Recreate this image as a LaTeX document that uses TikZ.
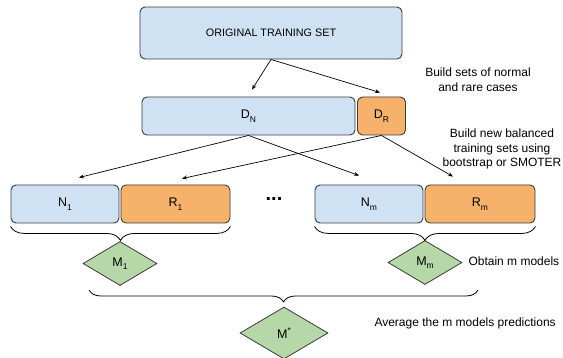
\documentclass[tikz,border=0pt]{standalone}
\usepackage{fontspec}
\setmainfont{Liberation Sans}
\usetikzlibrary{arrows.meta,shapes.geometric,decorations.pathreplacing,calc}

\definecolor{normalblue}{HTML}{CFE2F3}
\definecolor{rareorange}{HTML}{F6B26B}
\definecolor{modelgreen}{HTML}{B6D7A8}
\definecolor{edgegray}{HTML}{3A3A3A}

% lowered index, as in the set and model names
\newcommand{\idx}[1]{\raisebox{-3.5pt}{\fontsize{8.5}{9}\selectfont #1}}

\begin{document}
\begin{tikzpicture}[x=1pt, y=-1pt,
        set/.style={rectangle, draw=edgegray, rounded corners=5pt,
            line width=0.9pt, inner sep=0pt, minimum height=38pt,
            font=\fontsize{12.5}{14}\selectfont},
        normal/.style={set, fill=normalblue},
        rare/.style={set, fill=rareorange},
        model/.style={diamond, draw=edgegray, fill=modelgreen, line width=0.8pt,
            inner sep=0pt, minimum width=74pt, minimum height=44pt,
            font=\fontsize{12.5}{14}\selectfont},
        flow/.style={-{Stealth[length=5pt, width=4pt]}, line width=0.7pt},
        group/.style={decorate, decoration={brace, mirror, amplitude=#1},
            line width=0.8pt},
        note/.style={font=\fontsize{12}{14.5}\selectfont, align=center},
    ]
        \useasboundingbox (0,0) rectangle (563,358);

        % Whole training set
        \node[normal, minimum width=262pt, minimum height=52pt,
            font=\fontsize{10.8}{12}\selectfont] (orig) at (271,33) {ORIGINAL TRAINING SET};

        % Normal and rare cases
        \node[normal, minimum width=213pt] (dn) at (248.5,116) {D\idx{N}};
        \node[rare, minimum width=48pt] (dr) at (381.5,116) {D\idx{R}};

        % Balanced training sets
        \node[normal, minimum width=108pt] (n1) at (65,204) {N\idx{1}};
        \node[rare, minimum width=109pt] (r1) at (175.5,204) {R\idx{1}};
        \node[font=\fontsize{20}{20}\bfseries] (dots) at (274,199) {...};
        \node[normal, minimum width=108pt] (nm) at (369,204) {N\idx{m}};
        \node[rare, minimum width=110pt] (rm) at (480,204) {R\idx{m}};

        % Models
        \node[model] (m1) at (120,263.5) {M\idx{1}};
        \node[model] (mm) at (425,262.5) {M\idx{m}};
        \node[model, minimum width=88pt, minimum height=52pt] (mstar) at (284,333) {M\raisebox{5pt}{\fontsize{8.5}{9}\selectfont *}};

        % Splitting and resampling
        \draw[flow] (orig.south) -- ($(dn.north)+(3.5,-7)$);
        \draw[flow] (orig.south) -- ($(dr.north)+(-1.5,-4)$);
        \draw[flow] (dn.south) -- ($(n1.north)+(14,-7)$);
        \draw[flow] (dn.south) -- ($(nm.north)+(-10,-9)$);
        \draw[flow] (dr.south) -- ($(r1.north)+(6.5,-6)$);
        \draw[flow] (dr.south) -- ($(rm.north)+(-27,-8)$);

        % Braces
        \draw[group=14pt] ($(n1.south west)+(0,3)$) -- ($(r1.south east)+(0,3)$);
        \draw[group=14pt] ($(nm.south west)+(0,3)$) -- ($(rm.south east)+(0,3)$);
        \draw[group=12pt] (89,290) -- (478,290);

        % Step notes
        \node[note] (splitnote) at (478,79.5) {Build sets of normal\\and rare cases};
        \node[note] (resamplenote) at (502,149) {Build new balanced\\training sets using\\bootstrap or SMOTER};
        \node[note, anchor=west] (modelnote) at (465,261) {Obtain m models};
        \node[note, anchor=west] (averagenote) at (371,323) {Average the m models predictions};
    \end{tikzpicture}
\end{document}
